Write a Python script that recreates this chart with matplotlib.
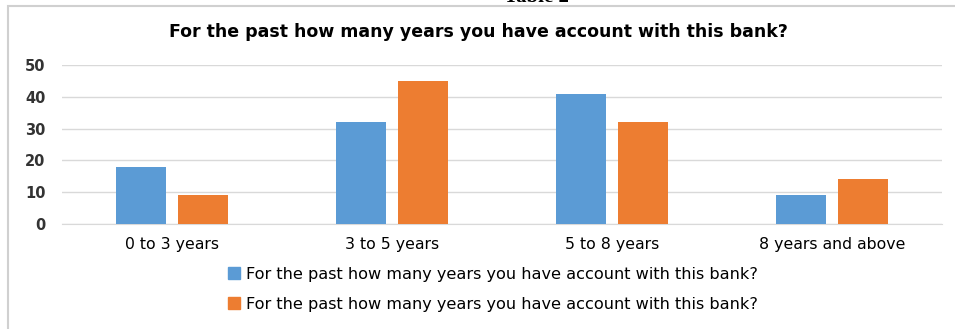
import matplotlib
matplotlib.use('Agg')
import matplotlib.pyplot as plt
import matplotlib.patches as mpatches
import numpy as np

categories = ['0 to 3 years', '3 to 5 years', '5 to 8 years', '8 years and above']
series_a = [18, 32, 41, 9]
series_b = [9, 45, 32, 14]
series_name = 'For the past how many years you have account with this bank?'
title = 'For the past how many years you have account with this bank?'
yticks = [0, 10, 20, 30, 40, 50]

blue = '#5B9BD5'
orange = '#ED7D31'
grid = '#D9D9D9'

W, H = 955, 329
fig = plt.figure(figsize=(W / 100, H / 100), dpi=100)
fig.patch.set_facecolor('white')

# outer chart frame (runs off the right and bottom edges)
fig.patches.append(mpatches.Rectangle((8 / W, -0.05), 1.1, 1 - 6 / H + 0.05,
                                      transform=fig.transFigure, fill=False,
                                      edgecolor='#D0D0D0', linewidth=1.5))
# caption above the chart, clipped at the top
fig.text(536 / W, 1 - 2 / H, 'Table 2', ha='center', va='baseline',
         family='Liberation Serif', fontweight='bold', fontsize=15)

ax = fig.add_axes([62 / W, 1 - 224 / H, 880 / W, 159 / H])
x = np.arange(len(categories))
w = 0.227
off = (w + 0.059) / 2
ax.bar(x - off, series_a, w, color=blue, label=series_name, zorder=3)
ax.bar(x + off, series_b, w, color=orange, label=series_name, zorder=3)

ax.set_xlim(-0.5, len(categories) - 0.5)
ax.set_ylim(0, 50)
ax.set_yticks(yticks)
ax.yaxis.grid(True, color=grid, linewidth=1, zorder=0)
ax.set_axisbelow(True)
for s in ['top', 'right', 'left']:
    ax.spines[s].set_visible(False)
ax.spines['bottom'].set_color(grid)
ax.tick_params(axis='both', length=0)
ax.tick_params(axis='y', pad=12)
ax.tick_params(axis='x', pad=9)
ax.set_xticks(x)
ax.set_xticklabels(categories, family='DejaVu Sans', fontsize=11.3)
for lbl in ax.get_yticklabels():
    lbl.set_family('DejaVu Sans')
    lbl.set_fontweight('bold')
    lbl.set_fontsize(10.5)
    lbl.set_color('#333333')

fig.text(478 / W, 1 - 32 / H, title, ha='center', va='center',
         family='DejaVu Sans', fontweight='bold', fontsize=12.5)

handles = [mpatches.Patch(color=blue), mpatches.Patch(color=orange)]
fig.legend(handles, [series_name, series_name], loc='upper left',
           bbox_to_anchor=(213 / W, 1 - 252 / H), frameon=False,
           handlelength=0.75, handleheight=0.75, handletextpad=0.4,
           labelspacing=0.95, prop={'family': 'DejaVu Sans', 'size': 11.6})

fig.savefig('out.png', dpi=100)
